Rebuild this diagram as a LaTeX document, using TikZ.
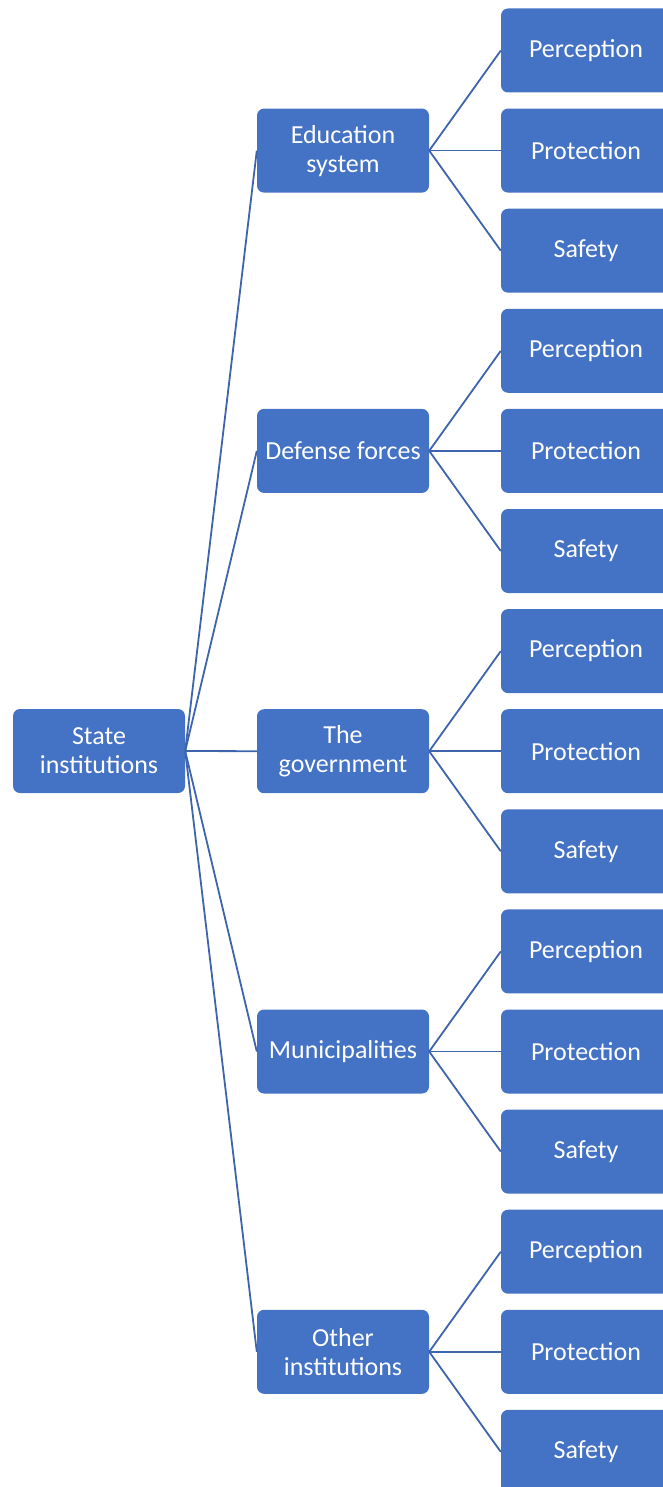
\documentclass[tikz,border=0pt]{standalone}
\usepackage{fontspec}
\setmainfont{Carlito}
\definecolor{boxblue}{HTML}{4472C4}
\definecolor{lineblue}{HTML}{3E64AC}
\begin{document}
\begin{tikzpicture}[x=1pt,y=-1pt,
  box/.style={draw=none,fill=boxblue,rounded corners=7pt,minimum width=172pt,minimum height=84pt,
    text=white,align=center,inner sep=2pt,font=\fontsize{26}{29}\selectfont},
  link/.style={draw=lineblue,line width=1.8pt}]
\useasboundingbox (0,0) rectangle (663,1487);
\clip (0,0) rectangle (663,1487);
\node[box] (root) at (99,751) {State\\institutions};
\foreach \name/\txt/\k in {edu/{Education\\system}/1, def/{Defense forces}/4, gov/{The\\government}/7, mun/{Municipalities}/10, oth/{Other\\institutions}/13} {
  \node[box] (\name) at (343,50.5+100.1*\k) {\txt};
  \draw[link] (root.east) -- (\name.west);
  \node[box,minimum width=170pt] (\name-a) at (586,50.5+100.1*\k-100.1) {Perception};
  \node[box,minimum width=170pt] (\name-b) at (586,50.5+100.1*\k) {Protection};
  \node[box,minimum width=170pt] (\name-c) at (586,50.5+100.1*\k+100.1) {Safety};
  \draw[link] (\name.east) -- (\name-a.west);
  \draw[link] (\name.east) -- (\name-b.west);
  \draw[link] (\name.east) -- (\name-c.west);
}
\end{tikzpicture}
\end{document}
